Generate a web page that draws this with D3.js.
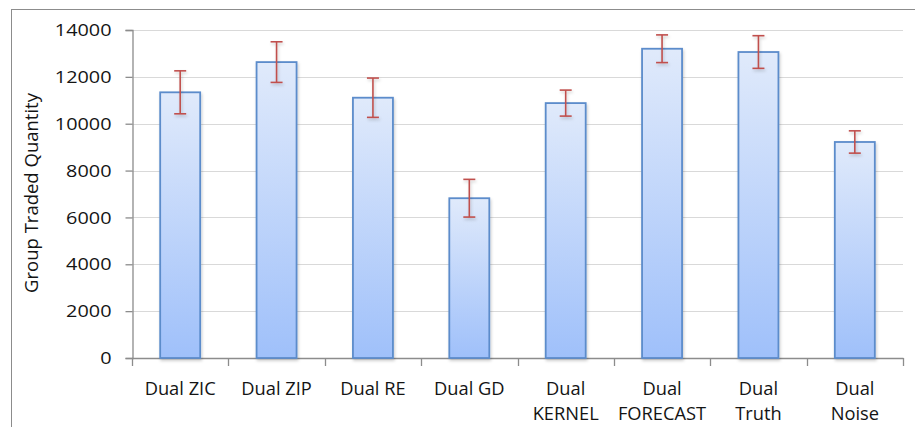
<!DOCTYPE html>
<html>
<head>
<meta charset="utf-8">
<script src="https://cdn.jsdelivr.net/npm/d3@7"></script>
<style>
  html, body { margin: 0; padding: 0; background: #fff; }
  svg { display: block; }
  text { font-family: "Open Sans", sans-serif; fill: #141414; }
</style>
</head>
<body>
<div id="chart"></div>
<script>
const categories = ["Dual ZIC", "Dual ZIP", "Dual RE", "Dual GD", "Dual\nKERNEL", "Dual\nFORECAST", "Dual\nTruth", "Dual\nNoise"];
const values = [11340, 12630, 11110, 6820, 10880, 13200, 13060, 9220];
const errors = [917, 867, 839, 805, 555, 591, 697, 476];
const yTicks = [0, 2000, 4000, 6000, 8000, 10000, 12000, 14000];
const yTitle = "Group Traded Quantity";

(function() {
const W = 915, H = 427;
const mLeft = 132, mRight = 903, mTop = 30, mBottom = 358;

const svg = d3.select("#chart").append("svg").attr("width", W).attr("height", H);

const defs = svg.append("defs");
const grad = defs.append("linearGradient").attr("id", "barGrad")
  .attr("x1", 0).attr("y1", 0).attr("x2", 0).attr("y2", 1);
grad.append("stop").attr("offset", "0%").attr("stop-color", "#e0eafb");
grad.append("stop").attr("offset", "100%").attr("stop-color", "#9fc0fa");
const shadow = defs.append("filter").attr("id", "shadow")
  .attr("x", "-20%").attr("y", "-20%").attr("width", "150%").attr("height", "150%");
shadow.append("feDropShadow").attr("dx", 1).attr("dy", 2).attr("stdDeviation", 1.5)
  .attr("flood-color", "#000").attr("flood-opacity", 0.2);

// outer border
svg.append("rect").attr("x", 11.5).attr("y", 9.5).attr("width", 1000).attr("height", 1000)
  .attr("fill", "none").attr("stroke", "#8c8c8c").attr("stroke-width", 1);

const x = d3.scaleBand().domain(categories).range([mLeft, mRight])
  .paddingInner(0.585).paddingOuter(0.2925);
const y = d3.scaleLinear().domain([0, 14000]).range([mBottom, mTop]);

// gridlines
svg.append("g").selectAll("line").data(yTicks.filter(d => d > 0)).join("line")
  .attr("x1", mLeft).attr("x2", mRight)
  .attr("y1", d => Math.round(y(d)) + 0.5).attr("y2", d => Math.round(y(d)) + 0.5)
  .attr("stroke", "#d9d9d9").attr("stroke-width", 1.2);

// y axis
const yAxis = svg.append("g").attr("transform", `translate(${mLeft + 0.5},0)`)
  .call(d3.axisLeft(y).tickValues(yTicks).tickSize(7).tickPadding(14).tickFormat(d3.format("d")));
yAxis.select(".domain").attr("stroke", "#8c8c8c").attr("stroke-width", 1.3);
yAxis.selectAll(".tick line").attr("stroke", "#8c8c8c").attr("stroke-width", 1.3);
yAxis.selectAll(".tick text")
  .style("font-family", "'Open Sans', sans-serif").style("font-size", "15.5px")
  .attr("fill", "#141414")
  .attr("dy", "0.36em")
  .each(function() {
    const t = d3.select(this);
    const xx = +t.attr("x");
    t.attr("x", null).attr("transform", `translate(${xx},0) scale(1.28,1)`);
  });

// x axis
svg.append("line").attr("x1", mLeft).attr("x2", mRight + 0.5)
  .attr("y1", mBottom + 0.5).attr("y2", mBottom + 0.5)
  .attr("stroke", "#8c8c8c").attr("stroke-width", 1.3);
const boundaries = categories.map(c => x(c) - x.step() * 0.2925).concat([mRight]);
svg.append("g").selectAll("line").data(boundaries).join("line")
  .attr("x1", d => Math.round(d) + 0.5).attr("x2", d => Math.round(d) + 0.5)
  .attr("y1", mBottom).attr("y2", mBottom + 8)
  .attr("stroke", "#8c8c8c").attr("stroke-width", 1.3);

// category labels
const catG = svg.append("g");
categories.forEach(c => {
  const lines = c.split("\n");
  const t = catG.append("text")
    .attr("text-anchor", "middle")
    .style("font-size", "18.3px");
  lines.forEach((ln, i) => {
    t.append("tspan").attr("x", x(c) + x.bandwidth() / 2).attr("y", 395 + i * 25).text(ln);
  });
});

// bars
svg.append("g").selectAll("rect").data(values).join("rect")
  .attr("x", (d, i) => x(categories[i]))
  .attr("y", d => y(d))
  .attr("width", x.bandwidth())
  .attr("height", d => y(0) - y(d))
  .attr("fill", "url(#barGrad)")
  .attr("stroke", "#5c8ccb").attr("stroke-width", 1.8)
  .attr("filter", "url(#shadow)");

// error bars
const eg = svg.append("g").attr("stroke", "#c0504d").attr("stroke-width", 1.6).attr("filter", "url(#shadow)");
values.forEach((v, i) => {
  const cx = x(categories[i]) + x.bandwidth() / 2;
  const y1 = y(v + errors[i]), y2 = y(v - errors[i]);
  eg.append("line").attr("x1", cx).attr("x2", cx).attr("y1", y1).attr("y2", y2);
  eg.append("line").attr("x1", cx - 6).attr("x2", cx + 6).attr("y1", y1).attr("y2", y1);
  eg.append("line").attr("x1", cx - 6).attr("x2", cx + 6).attr("y1", y2).attr("y2", y2);
});

// y title
svg.append("text")
  .attr("transform", `translate(38,193) rotate(-90)`)
  .attr("text-anchor", "middle")
  .style("font-size", "18.5px")
  .text(yTitle);
})();
</script>
</body>
</html>
